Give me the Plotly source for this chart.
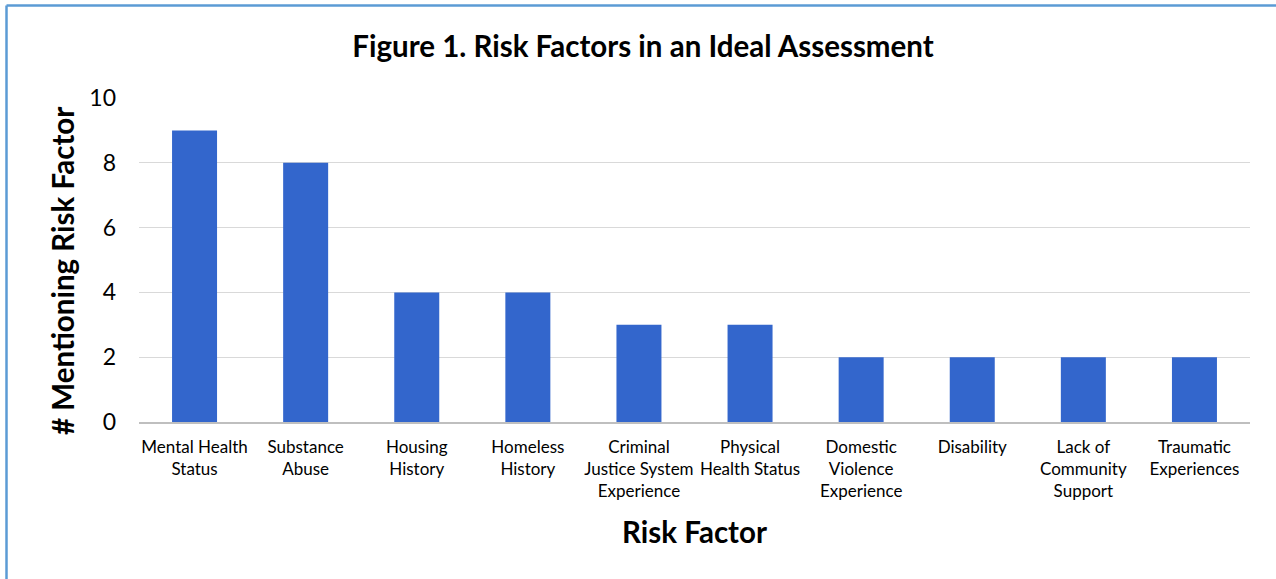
import plotly.graph_objects as go

categories = [
    "Mental Health<br>Status",
    "Substance<br>Abuse",
    "Housing<br>History",
    "Homeless<br>History",
    "Criminal<br>Justice System<br>Experience",
    "Physical<br>Health Status",
    "Domestic<br>Violence<br>Experience",
    "Disability",
    "Lack of<br>Community<br>Support",
    "Traumatic<br>Experiences",
]
values = [9, 8, 4, 4, 3, 3, 2, 2, 2, 2]
y_ticks = [0, 2, 4, 6, 8, 10]

W, H = 1276, 579
L, R, T, B = 139, 26, 98, 157
pw, ph = W - L - R, H - T - B

FONT = "Lato, Calibri, Carlito, sans-serif"

fig = go.Figure(go.Bar(
    x=categories, y=values,
    marker=dict(color="#3366CC", line=dict(width=0)),
    width=0.405,
))

border = "#5B9BD5"
top_y = 1 + (T - 5.5) / ph
left_x = (6.5 - L) / pw
fig.add_shape(type="line", xref="paper", yref="paper",
              x0=left_x, x1=(W - L) / pw, y0=top_y, y1=top_y,
              line=dict(color=border, width=2.5))
fig.add_shape(type="line", xref="paper", yref="paper",
              x0=left_x, x1=left_x, y0=top_y, y1=-(B) / ph,
              line=dict(color=border, width=2.5))

fig.add_annotation(
    text="<b># Mentioning Risk Factor</b>", textangle=-90,
    xref="paper", yref="paper",
    x=(62 - L) / pw, y=1 - (271 - T) / ph,
    xanchor="center", yanchor="middle", showarrow=False,
    font=dict(size=29.5, family=FONT, color="#000000"),
)

fig.update_layout(
    width=W, height=H,
    margin=dict(l=L, r=R, t=T, b=B, autoexpand=False),
    paper_bgcolor="white", plot_bgcolor="white",
    font=dict(family=FONT, color="#000000"),
    title=dict(text="<b>Figure 1. Risk Factors in an Ideal Assessment</b>",
               x=643 / W, xanchor="center",
               y=1 - 47 / H, yanchor="middle",
               font=dict(size=29.5, family=FONT)),
    showlegend=False,
    xaxis=dict(
        showgrid=False, showline=True, linecolor="#BFBFBF", linewidth=1.5,
        ticks="", ticklabelstandoff=9,
        tickfont=dict(size=17, family=FONT, color="#000000"),
        tickangle=0,
        title=dict(text="<b>Risk Factor</b>", font=dict(size=29.5, family=FONT), standoff=22),
        automargin=False,
    ),
    yaxis=dict(
        range=[0, 10], tickvals=y_ticks,
        showgrid=True, gridcolor="#D9D9D9", gridwidth=1,
        zeroline=False, showline=False,
        ticks="", ticklabelstandoff=22,
        tickfont=dict(size=23, family=FONT, color="#000000"),
        automargin=False,
    ),
)

fig.write_html("out.html", config={"displayModeBar": False},
               post_script="document.body.style.margin='0';")
